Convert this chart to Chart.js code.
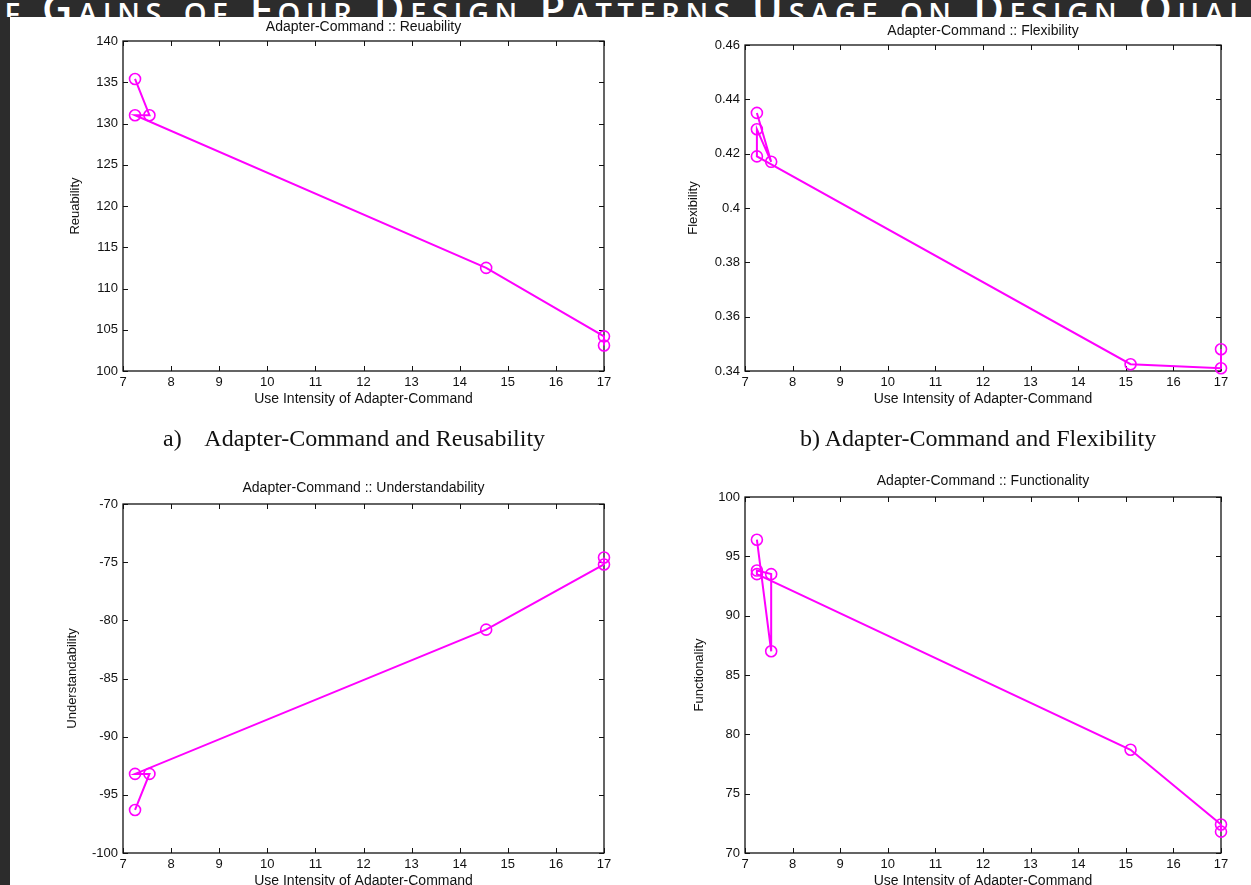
<!DOCTYPE html>
<html>
<head>
<meta charset="utf-8">
<script src="https://cdn.jsdelivr.net/npm/chart.js@4.4.1/dist/chart.umd.min.js"></script>
<style>
html, body { margin: 0; padding: 0; width: 1251px; height: 885px; overflow: hidden; background: #2c2c2c; }
#sheet { position: absolute; left: 10px; top: 17px; right: 0; bottom: 0; background: #fff; }
#banner { position: absolute; left: 0; top: 0; width: 1251px; height: 17px; overflow: hidden; }
#banner span { position: absolute; left: -24px; top: -21px; white-space: nowrap; color: #fff;
  font: 600 42px 'Open Sans', sans-serif; font-variant: small-caps; letter-spacing: 5.6px; }
canvas { position: absolute; }
.cap { position: absolute; font-family: 'Liberation Serif', 'Times New Roman', serif; font-size: 24px;
  color: #111; white-space: pre; line-height: 1; }
</style>
</head>
<body>
<div id="banner"><span>of Gains of Four Design Patterns Usage on Design Quality</span></div>
<div id="sheet"></div>
<canvas id="reuse"></canvas>
<canvas id="flex"></canvas>
<canvas id="und"></canvas>
<canvas id="func"></canvas>
<div class="cap" style="left:163px; top:426px;">a)    Adapter-Command and Reusability</div>
<div class="cap" style="left:800px; top:426px;">b) Adapter-Command and Flexibility</div>

<script>
// use intensity ticks shared by all four plots
const xTicks = [7, 8, 9, 10, 11, 12, 13, 14, 15, 16, 17];

// a) reusability
const reuseX = [7.25, 7.55, 7.25, 14.55, 17, 17];
const reuseY = [135.4, 131.0, 131.0, 112.5, 104.2, 103.1];
const reuseTicks = [100, 105, 110, 115, 120, 125, 130, 135, 140];

// b) flexibility
const flexX = [7.25, 7.55, 7.25, 7.25, 15.1, 17, 17];
const flexY = [0.435, 0.417, 0.429, 0.419, 0.3425, 0.341, 0.348];
const flexTicks = [0.34, 0.36, 0.38, 0.4, 0.42, 0.44, 0.46];

// c) understandability
const undX = [7.25, 7.55, 7.25, 14.55, 17, 17];
const undY = [-96.3, -93.2, -93.2, -80.8, -75.2, -74.6];
const undTicks = [-100, -95, -90, -85, -80, -75, -70];

// d) functionality
const funcX = [7.25, 7.55, 7.55, 7.25, 7.25, 15.1, 17, 17];
const funcY = [96.4, 87.0, 93.5, 93.8, 93.5, 78.7, 72.4, 71.8];
const funcTicks = [70, 75, 80, 85, 90, 95, 100];

const MAGENTA = '#ff00ff';
const FONT = "'Liberation Sans', Arial, sans-serif";

// matlab style box with inward ticks on every side, plus the small plot title
const matlabBox = {
    id: 'matlabBox',
    beforeDatasetsDraw(chart, args, opts) {
        const { ctx, chartArea: a, scales: { x, y } } = chart;
        const len = 5;
        ctx.save();
        ctx.strokeStyle = '#111';
        ctx.lineWidth = 1.3;
        ctx.strokeRect(a.left, a.top, a.width, a.height);
        ctx.beginPath();
        x.ticks.forEach(t => {
            const px = Math.round(x.getPixelForValue(t.value)) + 0.5;
            ctx.moveTo(px, a.bottom); ctx.lineTo(px, a.bottom - len);
            ctx.moveTo(px, a.top); ctx.lineTo(px, a.top + len);
        });
        y.ticks.forEach(t => {
            const py = Math.round(y.getPixelForValue(t.value)) + 0.5;
            ctx.moveTo(a.left, py); ctx.lineTo(a.left + len, py);
            ctx.moveTo(a.right, py); ctx.lineTo(a.right - len, py);
        });
        ctx.lineWidth = 1;
        ctx.stroke();

        ctx.fillStyle = '#111';
        ctx.font = '14px ' + FONT;
        ctx.textAlign = 'center';
        ctx.textBaseline = 'middle';
        ctx.fillText(opts.title, (a.left + a.right) / 2, a.top - opts.gap);
        ctx.restore();
    }
};

function fixedTicks(values) {
    return scale => { scale.ticks = values.map(v => ({ value: v })); };
}

function makePlot(id, box, xs, ys, yTicks, yLabel, title, gap) {
    const canvas = document.getElementById(id);
    const left = box.yTitleX - 14;
    const width = box.R - left + 16;
    const height = box.B + 38 - box.top;
    canvas.width = width;
    canvas.height = height;
    canvas.style.left = left + 'px';
    canvas.style.top = box.top + 'px';

    const tickFont = { family: FONT, size: 13 };

    new Chart(canvas.getContext('2d'), {
        type: 'scatter',
        data: {
            datasets: [{
                data: xs.map((v, i) => ({ x: v, y: ys[i] })),
                showLine: true,
                borderColor: MAGENTA,
                borderWidth: 2,
                backgroundColor: 'rgba(0,0,0,0)',
                pointStyle: 'circle',
                pointRadius: 5.5,
                pointBorderWidth: 1.6,
                pointBorderColor: MAGENTA,
                pointBackgroundColor: 'rgba(0,0,0,0)',
                tension: 0,
                clip: false
            }]
        },
        options: {
            responsive: false,
            animation: false,
            events: [],
            layout: { padding: { top: box.T - box.top, right: 16, left: 0, bottom: 0 } },
            plugins: {
                legend: { display: false },
                tooltip: { enabled: false },
                matlabBox: { title: title, gap: gap }
            },
            scales: {
                x: {
                    type: 'linear',
                    min: xTicks[0],
                    max: xTicks[xTicks.length - 1],
                    afterBuildTicks: fixedTicks(xTicks),
                    afterFit: s => { s.height = 38; },
                    grid: { display: false, drawTicks: false },
                    border: { display: false },
                    ticks: { autoSkip: false, maxRotation: 0, padding: 4, color: '#111', font: tickFont },
                    title: {
                        display: true, text: 'Use Intensity of Adapter-Command', color: '#111',
                        font: { family: FONT, size: 14 }, padding: { top: 0, bottom: 1.5 }
                    }
                },
                y: {
                    type: 'linear',
                    min: yTicks[0],
                    max: yTicks[yTicks.length - 1],
                    afterBuildTicks: fixedTicks(yTicks),
                    afterFit: s => { s.width = box.L - left; },
                    grid: { display: false, drawTicks: false },
                    border: { display: false },
                    ticks: {
                        autoSkip: false, padding: 5, color: '#111', font: tickFont,
                        callback: v => String(+v.toFixed(2))
                    },
                    title: {
                        display: true, text: yLabel, color: '#111',
                        font: { family: FONT, size: 13 }, padding: { top: 6, bottom: 0 }
                    }
                }
            }
        },
        plugins: [matlabBox]
    });
}

makePlot('reuse', { L: 123, R: 604, T: 41, B: 371, top: 17, yTitleX: 76 },
    reuseX, reuseY, reuseTicks, 'Reuability', 'Adapter-Command :: Reuability', 14);
makePlot('flex', { L: 745, R: 1221, T: 45, B: 371, top: 17, yTitleX: 694 },
    flexX, flexY, flexTicks, 'Flexibility', 'Adapter-Command :: Flexibility', 14);
makePlot('und', { L: 123, R: 604, T: 504, B: 853, top: 430, yTitleX: 73 },
    undX, undY, undTicks, 'Understandability', 'Adapter-Command :: Understandability', 16);
makePlot('func', { L: 745, R: 1221, T: 497, B: 853, top: 430, yTitleX: 700 },
    funcX, funcY, funcTicks, 'Functionality', 'Adapter-Command :: Functionality', 16);
</script>
</body>
</html>
